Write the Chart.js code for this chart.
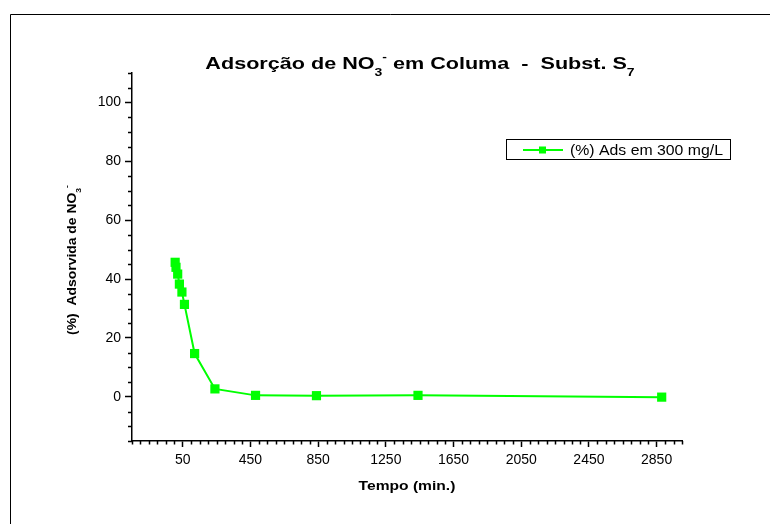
<!DOCTYPE html>
<html>
<head>
<meta charset="UTF-8" />
<title>Adsorção de NO3- em Columa - Subst. S7</title>
<style>
  html, body { margin: 0; padding: 0; background: #fff; }
  #wrap { width: 770px; height: 524px; }
</style>
<script src="https://cdn.jsdelivr.net/npm/chart.js"></script>
</head>
<body>
<div id="wrap"><canvas id="adsChart" width="770" height="524"></canvas></div>
<script>
// tempo de contato (min) e % adsorvida
const tempos = [5, 10, 20, 30, 45, 60, 120, 240, 480, 840, 1440, 2880];
const adsorvida = [45.7, 44.0, 41.7, 38.3, 35.6, 31.4, 14.7, 2.7, 0.5, 0.4, 0.5, -0.1];
const xTicks = [50, 450, 850, 1250, 1650, 2050, 2450, 2850];
const yTicks = [0, 20, 40, 60, 80, 100];
const serieNome = "(%) Ads em 300 mg/L";

const FONT = "'Liberation Sans', Arial, Helvetica, sans-serif";
const VERDE = "#00ff00";

// texto com subscritos/sobrescritos, desenhado pedaço por pedaço
// sx alarga o texto na horizontal
function drawRich(ctx, parts, x, y, size, bold, align, sx) {
  const small = Math.round(size * 0.62);
  const fontOf = (s) => (bold ? "bold " : "") + s + "px " + FONT;
  let total = 0;
  const widths = parts.map(p => {
    ctx.font = fontOf(p.sub || p.sup ? small : size);
    const w = ctx.measureText(p.t).width;
    total += w;
    return w;
  });
  ctx.save();
  ctx.translate(x, y);
  ctx.scale(sx || 1, 1);
  let cx = align === "center" ? -total / 2 : 0;
  ctx.textAlign = "left";
  ctx.textBaseline = "alphabetic";
  parts.forEach((p, i) => {
    ctx.font = fontOf(p.sub || p.sup ? small : size);
    let dy = 0;
    if (p.sub) dy = size * 0.4;
    if (p.sup) dy = -size * 0.55;
    ctx.fillText(p.t, cx, dy);
    cx += widths[i];
  });
  ctx.restore();
}

const extras = {
  id: "extras",
  beforeDraw(chart) {
    const ctx = chart.ctx;
    ctx.save();
    ctx.fillStyle = "#fff";
    ctx.fillRect(0, 0, chart.width, chart.height);
    // moldura
    ctx.strokeStyle = "#000";
    ctx.lineWidth = 1;
    ctx.beginPath();
    ctx.moveTo(10.5, chart.height);
    ctx.lineTo(10.5, 14.5);
    ctx.lineTo(chart.width, 14.5);
    ctx.stroke();
    ctx.restore();
  },
  afterDraw(chart) {
    const ctx = chart.ctx;
    const xs = chart.scales.x, ys = chart.scales.y;
    const area = chart.chartArea;
    ctx.save();
    ctx.strokeStyle = "#000";
    ctx.lineWidth = 1.5;
    ctx.beginPath();
    for (let v = xs.min; v <= xs.max; v += 50) {
      if (xTicks.includes(v)) continue;
      const px = Math.round(xs.getPixelForValue(v)) + 0.5;
      ctx.moveTo(px, area.bottom);
      ctx.lineTo(px, area.bottom + 3.5);
    }
    for (let v = ys.min; v <= ys.max; v += 5) {
      if (yTicks.includes(v)) continue;
      const py = Math.round(ys.getPixelForValue(v)) + 0.5;
      ctx.moveTo(area.left - 4, py);
      ctx.lineTo(area.left, py);
    }
    ctx.stroke();

    ctx.fillStyle = "#000";
    drawRich(ctx, [
      { t: "Adsorção de NO" }, { t: "3", sub: true }, { t: "-", sup: true },
      { t: " em Columa  -  Subst. S" }, { t: "7", sub: true }
    ], 420, 69, 17, true, "center", 1.27);

    drawRich(ctx, [{ t: "Tempo (min.)" }], (area.left + area.right) / 2, 490, 13, true, "center", 1.2);

    ctx.save();
    ctx.translate(76, 260);
    ctx.rotate(-Math.PI / 2);
    drawRich(ctx, [
      { t: "(%)  Adsorvida de NO" }, { t: "3", sub: true }, { t: "-", sup: true }
    ], 0, 0, 13, true, "center", 1.07);
    ctx.restore();

    // legenda
    ctx.lineWidth = 1;
    ctx.strokeRect(506.5, 139.5, 224, 20);
    ctx.strokeStyle = VERDE;
    ctx.lineWidth = 2;
    ctx.beginPath();
    ctx.moveTo(523, 150);
    ctx.lineTo(563, 150);
    ctx.stroke();
    ctx.fillStyle = VERDE;
    ctx.fillRect(539, 146.5, 7, 7);
    ctx.fillStyle = "#000";
    drawRich(ctx, [{ t: chart.data.datasets[0].label }], 570, 155, 14, false, "left", 1.13);
    ctx.restore();
  }
};

new Chart(document.getElementById("adsChart"), {
  type: "line",
  data: {
    datasets: [{
      label: serieNome,
      data: tempos.map((t, i) => ({ x: t, y: adsorvida[i] })),
      borderColor: VERDE,
      backgroundColor: VERDE,
      borderWidth: 2,
      tension: 0,
      pointStyle: "rect",
      pointRadius: 6.5,
      pointBorderWidth: 0,
      pointBackgroundColor: VERDE
    }]
  },
  options: {
    responsive: false,
    animation: false,
    layout: { padding: { left: 72, right: 88, top: 73, bottom: 33 } },
    plugins: { legend: { display: false }, title: { display: false }, tooltip: { enabled: false } },
    scales: {
      x: {
        type: "linear",
        min: -250,
        max: 3000,
        afterBuildTicks: (s) => { s.ticks = xTicks.map(v => ({ value: v })); },
        afterFit: (s) => { s.height = 50; },
        grid: { drawOnChartArea: false, tickLength: 6, tickColor: "#000", tickWidth: 1.5 },
        border: { display: true, color: "#000", width: 1.5 },
        ticks: { color: "#000", font: { family: FONT, size: 14 }, padding: 5, maxRotation: 0, autoSkip: false, callback: (v) => String(v) }
      },
      y: {
        min: -15,
        max: 110,
        afterBuildTicks: (s) => { s.ticks = yTicks.map(v => ({ value: v })); },
        afterFit: (s) => { s.width = 60; },
        grid: { drawOnChartArea: false, tickLength: 7, tickColor: "#000", tickWidth: 1.5 },
        border: { display: true, color: "#000", width: 1.5 },
        ticks: { color: "#000", font: { family: FONT, size: 14 }, padding: 4, callback: (v) => String(v) }
      }
    }
  },
  plugins: [extras]
});
</script>
</body>
</html>
